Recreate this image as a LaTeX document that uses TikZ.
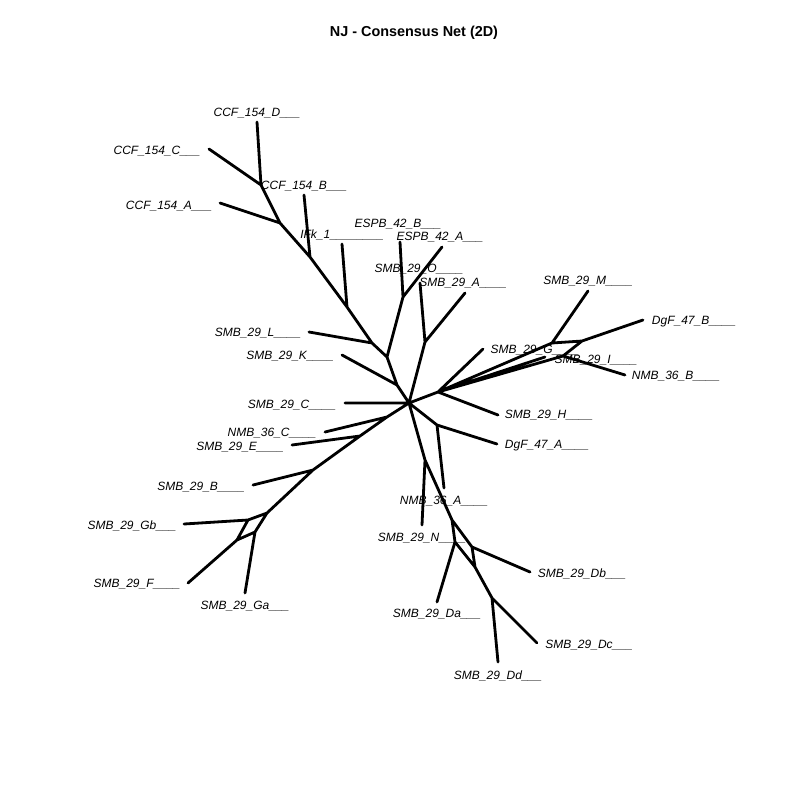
\documentclass[tikz,border=0pt]{standalone}
\usepackage{fontspec}
\setmainfont{Liberation Sans}

\tikzset{
  taxon/.style={font=\itshape\fontsize{12}{12}\selectfont, inner sep=0pt, anchor=base},
  branch/.style={line width=2.8pt, line cap=round, line join=round}
}

\begin{document}
\begin{tikzpicture}[x=1pt,y=-1pt]
        \useasboundingbox (0,0) rectangle (800,800);
        \node[font=\bfseries\fontsize{14.4}{14.4}\selectfont, inner sep=0pt, anchor=base] (title) at (414,37) {NJ - Consensus Net (2D)};
        \foreach \n/\x/\y in {c/409/403, k/397/385, e1/387/357, l/372/343, f/347/307, b/310/257, a/280/223, cd/261/185,
                es/403/297, oa/425/342, j/438/392, rm/552/343, rd/582/341, rn/563/356, da/437/425,
                nj/425/460, q1/452/520, q2/455/542, q3/472/547, q4/475/567, q5/492/598,
                nc/387/417, ej/360/436, bj/313/470, g1/267/513, g2/248/520, g3/255/532, g4/237/540}
            \coordinate (\n) at (\x,\y);
        \foreach \n/\tx/\ty/\lx/\ly/\t in {
                cD/257/122/257/112/CCF\_154\_D\_\_\_, cC/209/149/157/150/CCF\_154\_C\_\_\_,
                cB/304/195/304/185/CCF\_154\_B\_\_\_, cA/220/203/169/205/CCF\_154\_A\_\_\_,
                ifk/342/244/342/234/IFk\_1\_\_\_\_\_\_\_\_,
                eB/400/242/398/223/ESPB\_42\_B\_\_\_, eA/442/247/440/236/ESPB\_42\_A\_\_\_,
                sO/420/283/419/268/SMB\_29\_O\_\_\_\_, sA/465/293/463/282/SMB\_29\_A\_\_\_\_,
                sM/588/291/588/280/SMB\_29\_M\_\_\_\_, dB/643/320/694/320/DgF\_47\_B\_\_\_\_,
                sG/483/349/535/349/SMB\_29\_G\_\_\_\_, sI/545/357/596/359/SMB\_29\_I\_\_\_\_,
                nB/625/375/676/375/NMB\_36\_B\_\_\_\_, sH/498/415/549/414/SMB\_29\_H\_\_\_\_,
                dA/497/444/547/444/DgF\_47\_A\_\_\_\_, sL/309/332/258/332/SMB\_29\_L\_\_\_\_,
                sK/342/355/290/355/SMB\_29\_K\_\_\_\_, sC/345/403/292/404/SMB\_29\_C\_\_\_\_,
                nC/325/432/272/432/NMB\_36\_C\_\_\_\_, sE/292/445/240/446/SMB\_29\_E\_\_\_\_,
                sB/253/485/201/486/SMB\_29\_B\_\_\_\_, sGb/184/524/132/525/SMB\_29\_Gb\_\_\_,
                sF/188/583/137/583/SMB\_29\_F\_\_\_\_, sGa/245/593/245/605/SMB\_29\_Ga\_\_\_,
                nA/444/488/444/500/NMB\_36\_A\_\_\_\_, sN/422/525/422/537/SMB\_29\_N\_\_\_\_,
                sDb/530/572/582/573/SMB\_29\_Db\_\_\_, sDa/437/602/437/613/SMB\_29\_Da\_\_\_,
                sDc/537/643/589/644/SMB\_29\_Dc\_\_\_, sDd/498/662/498/675/SMB\_29\_Dd\_\_\_} {
            \coordinate (\n) at (\tx,\ty);
            \node[taxon] (l\n) at (\lx,\ly+4) {\t};
        }
        \draw[branch] \foreach \u/\v in {c/k, k/e1, e1/l, l/f, f/b, b/a, a/cd, cd/cD, cd/cC, b/cB, a/cA, f/ifk,
                l/sL, k/sK, e1/es, es/eB, es/eA, c/oa, oa/sO, oa/sA,
                c/j, j/sG, j/sH, j/sI, j/rm, j/rn, rm/rd, rd/rn, rm/sM, rd/dB, rn/nB,
                c/da, da/dA, da/nA, c/nj, nj/sN, nj/q1, q1/q2, q1/q3, q2/q4, q3/q4, q4/q5,
                q2/sDa, q3/sDb, q5/sDc, q5/sDd,
                c/sC, c/nc, nc/nC, nc/ej, ej/sE, ej/bj, bj/sB, bj/g1, g1/g2, g1/g3, g2/g4, g3/g4,
                g2/sGb, g4/sF, g3/sGa} {
            (\u) -- (\v)
        };
    \end{tikzpicture}
\end{document}
